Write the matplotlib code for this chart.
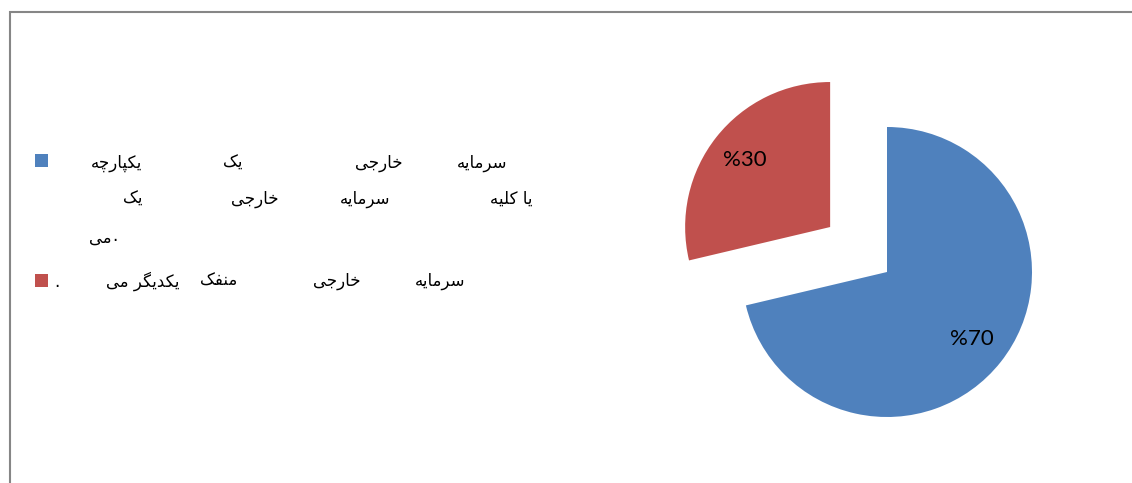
import matplotlib
matplotlib.use("Agg")
import matplotlib.pyplot as plt
from matplotlib.patches import Rectangle

# ---------------- data ----------------
categories = ["سرمایه خارجی یک یکپارچه یا کلیه سرمایه خارجی یک می.",
              "سرمایه خارجی منفک یکدیگر می ."]
values = [71.3, 28.7]
value_labels = ["%70", "%30"]
colors = ["#4F81BD", "#C0504D"]
explode = [0.0, 0.5]

# legend lines: list of (word, right-edge-px, y-center-px)
legend1_words = [("سرمایه", 507, 163), ("خارجی", 403, 163), ("یک", 243, 163), ("یکپارچه", 142, 163),
                 ("یا کلیه", 532, 199), ("سرمایه", 390, 199), ("خارجی", 278, 199), ("یک", 142, 199),
                 ("می", 112, 238)]
legend2_words = [("سرمایه", 465, 281), ("خارجی", 360, 281), ("منفک", 237, 281), ("یکدیگر می", 180, 281)]

# ---------------- simple Persian shaping ----------------
FORMS = {  # iso, fin, ini, med
    'ا': ('\uFE8D', '\uFE8E', None, None),
    'د': ('\uFEA9', '\uFEAA', None, None),
    'ر': ('\uFEAD', '\uFEAE', None, None),
    'س': ('\uFEB1', '\uFEB2', '\uFEB3', '\uFEB4'),
    'م': ('\uFEE1', '\uFEE2', '\uFEE3', '\uFEE4'),
    'ه': ('\uFEE9', '\uFEEA', '\uFEEB', '\uFEEC'),
    'ی': ('\uFEEF', '\uFEF0', '\uFEF3', '\uFEF4'),
    'خ': ('\uFEA5', '\uFEA6', '\uFEA7', '\uFEA8'),
    'ج': ('\uFE9D', '\uFE9E', '\uFE9F', '\uFEA0'),
    'ک': ('\uFB8E', '\uFB8F', '\uFB90', '\uFB91'),
    'پ': ('\uFB56', '\uFB57', '\uFB58', '\uFB59'),
    'چ': ('\uFB7A', '\uFB7B', '\uFB7C', '\uFB7D'),
    'ل': ('\uFEDD', '\uFEDE', '\uFEDF', '\uFEE0'),
    'ن': ('\uFEE5', '\uFEE6', '\uFEE7', '\uFEE8'),
    'ف': ('\uFED1', '\uFED2', '\uFED3', '\uFED4'),
    'گ': ('\uFB92', '\uFB93', '\uFB94', '\uFB95'),
}


def dual(c):
    return c in FORMS and FORMS[c][2] is not None


def joining(c):
    return c in FORMS


def shape(s):
    out = []
    for i, c in enumerate(s):
        if c not in FORMS:
            out.append(c)
            continue
        prev = s[i - 1] if i > 0 else ''
        nxt = s[i + 1] if i + 1 < len(s) else ''
        jp = dual(prev)
        jn = dual(c) and joining(nxt)
        iso, fin, ini, med = FORMS[c]
        if jp and jn:
            out.append(med)
        elif jp:
            out.append(fin)
        elif jn:
            out.append(ini)
        else:
            out.append(iso)
    return ''.join(reversed(out))


W, H = 1132, 483
fig = plt.figure(figsize=(W / 100, H / 100), dpi=100)
fig.patch.set_facecolor("white")

# chart border (extends off the right and bottom edges)
fig.patches.append(Rectangle((10 / W, -0.05), 1.2, 1 - 12 / H + 0.05, transform=fig.transFigure,
                             fill=False, edgecolor="#868686", lw=1.5))

# ---------------- pie ----------------
cx, cy, r = 887, 272, 145
size = 400
ax = fig.add_axes([(cx - size / 2) / W, 1 - (cy + size / 2) / H, size / W, size / H])
lab_iter = iter(value_labels)
wedges, texts, autotexts = ax.pie(values, colors=colors, explode=explode, startangle=90,
                                  counterclock=False, radius=1,
                                  autopct=lambda p: next(lab_iter), pctdistance=0.75,
                                  textprops=dict(fontsize=16, family="Lato", color="black"))
lim = size / 2 / r
ax.set_xlim(-lim, lim)
ax.set_ylim(-lim, lim)
ax.set_aspect("equal")
ax.axis("off")

# ---------------- legend ----------------
fs = 12
for col, ysq in zip(colors, [160, 280]):
    fig.patches.append(Rectangle((35 / W, 1 - (ysq + 7) / H), 13 / W, 13 / H,
                                 transform=fig.transFigure, facecolor=col, edgecolor="none"))
for word, xr, yc in legend1_words + legend2_words:
    fig.text(xr / W, 1 - yc / H, shape(word), ha="right", va="center", fontsize=fs,
             family="DejaVu Sans")
fig.text(118 / W, 1 - 236 / H, ".", ha="right", va="center", fontsize=fs, family="DejaVu Sans")
fig.text(60 / W, 1 - 282 / H, ".", ha="right", va="center", fontsize=fs, family="DejaVu Sans")

fig.savefig("out.png", dpi=100)
